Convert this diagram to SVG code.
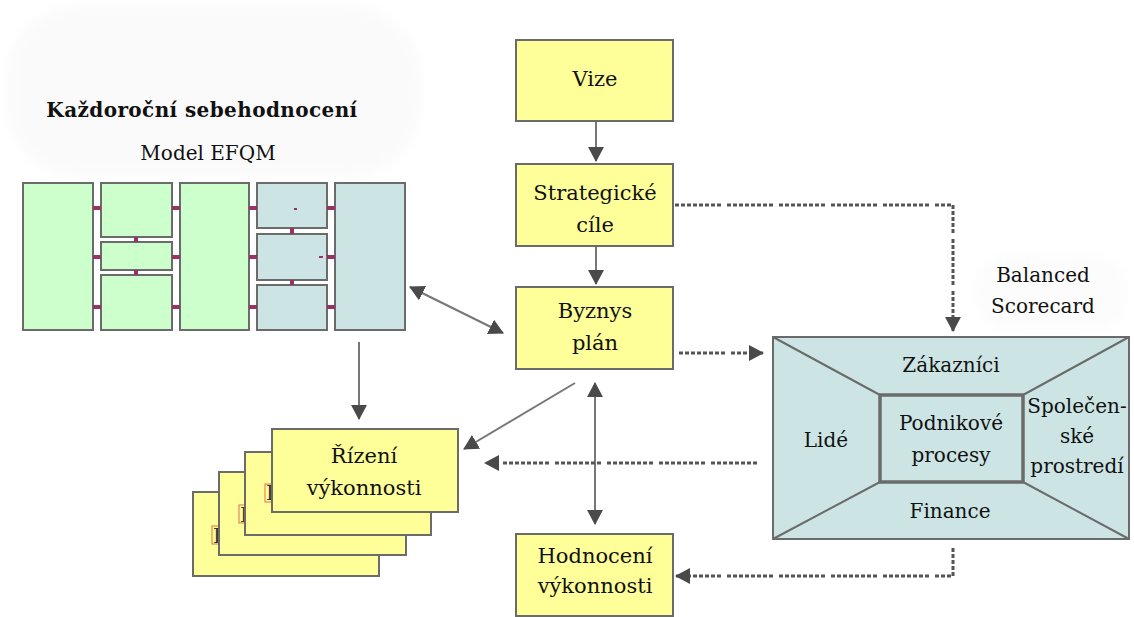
<svg xmlns="http://www.w3.org/2000/svg" width="1134" height="617" viewBox="0 0 1134 617">
  <style>
    .t { font-family: "DejaVu Serif", "Liberation Serif", serif; font-size: 21px; fill: #111; text-anchor: middle; }
    .tb { font-weight: bold; font-size: 20px; letter-spacing: 0.4px; }
    .tm { font-size: 20px; }
    .box { fill: #ffff99; stroke: #6b6b6b; stroke-width: 2; }
    .green { fill: #ccffcc; stroke: #6b6b6b; stroke-width: 2; }
    .blue { fill: #cce4e4; stroke: #6b6b6b; stroke-width: 2; }
    .bsc { fill: #cce4e4; stroke: #6b6b6b; stroke-width: 2; }
    .link { fill: #993366; }
    .hid { font-family: "DejaVu Serif", "Liberation Serif", serif; font-size: 20px; fill: #333; }
    .solid { fill: none; stroke: #777; stroke-width: 2; }
    .dotted { fill: none; stroke: #555; stroke-width: 3; stroke-dasharray: 4 2 4 2 4 2 4 2 4 2 4 2 4 2 4 6; }
  </style>
  <defs>
    <marker id="arr" viewBox="0 0 15 16" refX="14" refY="8" markerWidth="15" markerHeight="16" markerUnits="userSpaceOnUse" orient="auto-start-reverse">
      <path d="M0,0 L15,8 L0,16 Z" fill="#4a4a4a"/>
    </marker>
    <filter id="soft" x="-10%" y="-10%" width="120%" height="120%">
      <feGaussianBlur stdDeviation="6"/>
    </filter>
  </defs>

  <rect width="1134" height="617" fill="#ffffff"/>

  <!-- faint backdrops behind the EFQM title and the scorecard label -->
  <rect x="8" y="6" width="412" height="170" rx="70" fill="#fafafa" filter="url(#soft)"/>
  <rect x="976" y="256" width="150" height="74" rx="30" fill="#fcfcfc" filter="url(#soft)"/>

  <!-- EFQM model -->
  <g id="efqm">
    <text class="t tb" x="202" y="117">Každoroční sebehodnocení</text>
    <text class="t tm" x="208" y="160">Model EFQM</text>
    <rect class="green" x="23" y="183" width="70" height="147"/>
    <rect class="green" x="101" y="183" width="71" height="54"/>
    <rect class="green" x="101" y="242" width="71" height="28"/>
    <rect class="green" x="101" y="275" width="71" height="55"/>
    <rect class="green" x="180" y="183" width="69" height="147"/>
    <rect class="blue" x="257" y="183" width="70" height="45"/>
    <rect class="blue" x="257" y="234" width="70" height="46"/>
    <rect class="blue" x="257" y="285" width="70" height="45"/>
    <rect class="blue" x="335" y="183" width="70" height="147"/>
    <!-- links between the blocks -->
    <g>
      <rect class="link" x="93" y="206" width="8" height="4"/>
      <rect class="link" x="93" y="255" width="8" height="4"/>
      <rect class="link" x="93" y="305" width="8" height="4"/>
      <rect class="link" x="172" y="206" width="8" height="4"/>
      <rect class="link" x="172" y="255" width="8" height="4"/>
      <rect class="link" x="172" y="305" width="8" height="4"/>
      <rect class="link" x="249" y="206" width="8" height="4"/>
      <rect class="link" x="249" y="255" width="8" height="4"/>
      <rect class="link" x="249" y="305" width="8" height="4"/>
      <rect class="link" x="327" y="206" width="8" height="4"/>
      <rect class="link" x="327" y="255" width="8" height="4"/>
      <rect class="link" x="327" y="305" width="8" height="4"/>
      <rect class="link" x="134" y="237" width="4" height="5"/>
      <rect class="link" x="134" y="270" width="4" height="5"/>
      <rect class="link" x="290" y="228" width="4" height="6"/>
      <rect class="link" x="290" y="280" width="4" height="5"/>
      <rect class="link" x="294" y="208" width="3" height="2"/>
      <rect class="link" x="319" y="256" width="4" height="2"/>
    </g>
  </g>

  <!-- strategy chain -->
  <g id="vize">
    <rect class="box" x="516" y="40" width="157" height="81"/>
    <text class="t" x="595" y="86">Vize</text>
  </g>
  <g id="strategicke-cile">
    <rect class="box" x="516" y="164" width="157" height="82"/>
    <text class="t" x="595" y="200">Strategické</text>
    <text class="t" x="595" y="232">cíle</text>
  </g>
  <g id="byznys-plan">
    <rect class="box" x="516" y="287" width="157" height="82"/>
    <text class="t" x="595" y="318">Byznys</text>
    <text class="t" x="595" y="350">plán</text>
  </g>
  <g id="hodnoceni">
    <rect class="box" x="516" y="534" width="157" height="82"/>
    <text class="t" x="595" y="563">Hodnocení</text>
    <text class="t" x="595" y="593">výkonnosti</text>
  </g>

  <!-- stack of performance management cards -->
  <g id="rizeni">
    <rect class="box" x="193" y="492" width="186" height="84"/>
    <rect x="212" y="526" width="9" height="18" fill="none" stroke="#e07050" stroke-width="1"/>
    <text class="hid" x="213" y="543">E</text>
    <rect class="box" x="219" y="472" width="187" height="83"/>
    <rect x="239" y="505" width="9" height="18" fill="none" stroke="#e07050" stroke-width="1"/>
    <text class="hid" x="240" y="522">E</text>
    <rect class="box" x="245" y="452" width="186" height="83"/>
    <rect x="265" y="484" width="9" height="18" fill="none" stroke="#e07050" stroke-width="1"/>
    <text class="hid" x="266" y="500">E</text>
    <rect class="box" x="272" y="429" width="186" height="83"/>
    <text class="t" x="364" y="463">Řízení</text>
    <text class="t" x="364" y="495">výkonnosti</text>
  </g>

  <!-- balanced scorecard -->
  <g id="bsc">
    <text class="t tm" x="1043" y="282">Balanced</text>
    <text class="t tm" x="1043" y="313">Scorecard</text>
    <rect class="bsc" x="773" y="337" width="356" height="202"/>
    <path d="M773,337 L880,395 M1129,337 L1023,395 M773,539 L880,482 M1129,539 L1023,482" stroke="#6b6b6b" stroke-width="2" fill="none"/>
    <rect x="880" y="395" width="143" height="87" fill="#cce4e4" stroke="#6b6b6b" stroke-width="3.5"/>
    <text class="t tm" x="951" y="372">Zákazníci</text>
    <text class="t tm" x="826" y="447">Lidé</text>
    <text class="t tm" x="951" y="430">Podnikové</text>
    <text class="t tm" x="951" y="462">procesy</text>
    <text class="t tm" x="1077" y="413">Společen-</text>
    <text class="t tm" x="1077" y="443">ské</text>
    <text class="t tm" x="1077" y="473">prostredí</text>
    <text class="t tm" x="950" y="518">Finance</text>
  </g>

  <!-- connectors -->
  <g id="connectors">
    <line class="solid" x1="596" y1="122" x2="596" y2="161" marker-end="url(#arr)"/>
    <line class="solid" x1="596" y1="247" x2="596" y2="284" marker-end="url(#arr)"/>
    <line class="solid" x1="595" y1="383" x2="595" y2="524" marker-start="url(#arr)" marker-end="url(#arr)"/>
    <line class="solid" x1="575" y1="383" x2="464" y2="449" marker-end="url(#arr)"/>
    <line class="solid" x1="410" y1="287" x2="503" y2="333" marker-start="url(#arr)" marker-end="url(#arr)"/>
    <line class="solid" x1="359" y1="342" x2="359" y2="419" marker-end="url(#arr)"/>
    <path class="dotted" d="M675,205 H953 V331" marker-end="url(#arr)"/>
    <path class="dotted" d="M679,353 H763" marker-end="url(#arr)"/>
    <path class="dotted" d="M757,463 H485" marker-end="url(#arr)"/>
    <path class="dotted" d="M953,548 V576 H676" marker-end="url(#arr)"/>
  </g>
</svg>
